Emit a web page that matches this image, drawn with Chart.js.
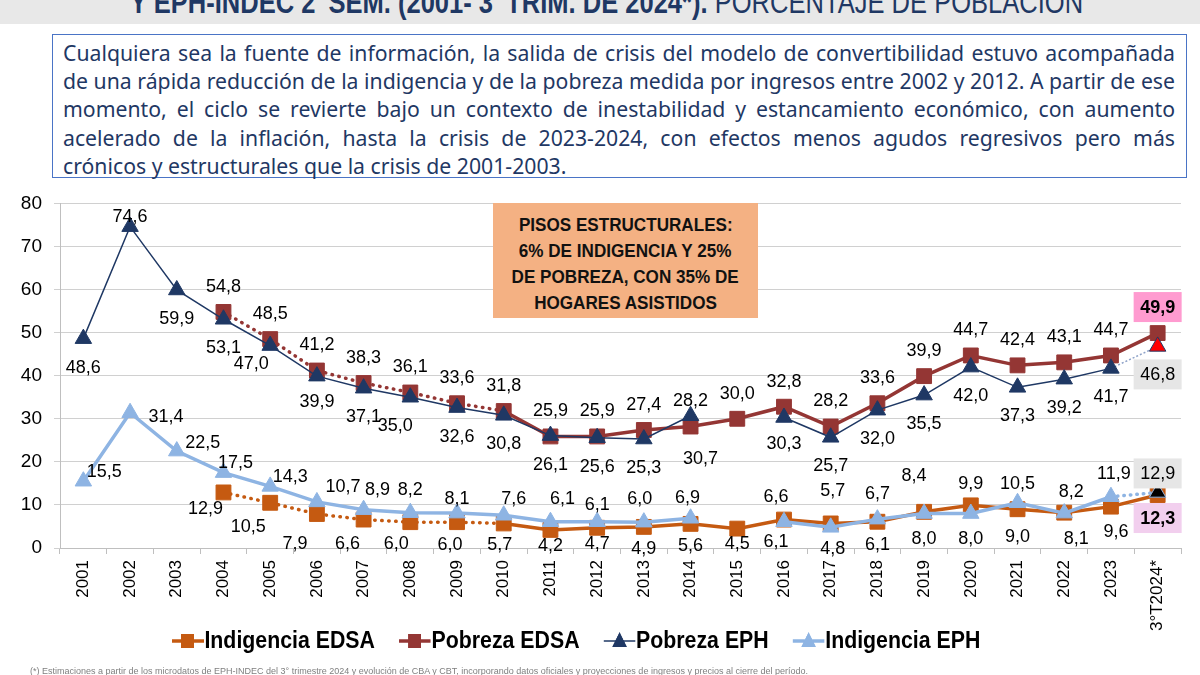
<!DOCTYPE html>
<html lang="es">
<head>
<meta charset="utf-8">
<title>Pobreza e indigencia EDSA y EPH</title>
<script src="https://cdn.jsdelivr.net/npm/chart.js@4.4.1/dist/chart.umd.min.js"></script>
<style>
    html, body { margin: 0; padding: 0; background: #fff; }
    body { width: 1200px; height: 675px; position: relative; overflow: hidden; font-family: "Liberation Sans", Arial, sans-serif; }
    .band { position: absolute; left: 0; top: 0; width: 1200px; height: 24px; background: #e8e8e8; overflow: hidden; }
    .band .title { position: absolute; left: 130px; top: -22px; white-space: nowrap; font-family: "Liberation Sans", sans-serif; font-size: 31px; color: #1f3864; line-height: 34px; transform-origin: left top; }
    .band .title b { font-weight: bold; }
    .band .title sup { font-size: 18px; vertical-align: 12px; }
    .note { position: absolute; left: 52px; top: 34px; width: 1135px; height: 144px; box-sizing: border-box; border: 1.5px solid #4a74c6; padding: 4px 11px 0 10px; font-family: "Noto Sans", sans-serif; font-size: 18.2px; line-height: 28.2px; color: #1f3864; }
    .note div { text-align: justify; text-align-last: justify; }
    .note div.last { text-align-last: left; }
    .pisos { position: absolute; left: 493px; top: 203px; width: 265px; height: 115px; background: #f4b183; box-sizing: border-box; padding-top: 9px; text-align: center; font-family: "Liberation Sans", sans-serif; font-weight: bold; font-size: 19px; line-height: 26px; color: #111; z-index: 2; }
    .pisos span { display: inline-block; transform: scaleX(0.9); white-space: nowrap; }
    #wrap { position: absolute; left: 0; top: 180px; width: 1200px; height: 495px; }
    .legend { position: absolute; left: 172px; top: 627px; display: flex; align-items: center; gap: 26px; white-space: nowrap; font-family: "Liberation Sans", sans-serif; font-weight: bold; font-size: 23px; color: #000; transform-origin: left center; }
    .legend span.item { display: flex; align-items: center; }
    .legend canvas { width: 34px; height: 22px; margin-right: 1px; }
    .foot { position: absolute; left: 30px; top: 666px; white-space: nowrap; font-size: 9px; color: #7f7f7f; }
    .probe { position: absolute; visibility: hidden; white-space: nowrap; }
</style>
</head>
<body>
<div class="band"><div class="title" id="title"><b>Y EPH-INDEC 2<sup>°</sup> SEM. (2001- 3<sup>°</sup> TRIM. DE 2024*). </b>PORCENTAJE DE POBLACIÓN</div></div>

<div class="note" id="note">
    <div>Cualquiera sea la fuente de información, la salida de crisis del modelo de convertibilidad estuvo acompañada</div>
    <div>de una rápida reducción de la indigencia y de la pobreza medida por ingresos entre 2002 y 2012. A partir de ese</div>
    <div>momento, el ciclo se revierte bajo un contexto de inestabilidad y estancamiento económico, con aumento</div>
    <div>acelerado de la inflación, hasta la crisis de 2023-2024, con efectos menos agudos regresivos pero más</div>
    <div class="last">crónicos y estructurales que la crisis de 2001-2003.</div>
</div>

<div id="wrap"><canvas id="chart"></canvas></div>

<div class="pisos"><span>PISOS ESTRUCTURALES:</span><br><span>6% DE INDIGENCIA Y 25%</span><br><span>DE POBREZA, CON 35% DE</span><br><span>HOGARES ASISTIDOS</span></div>

<div class="legend" id="legend"></div>

<div class="foot">(*) Estimaciones a partir de los microdatos de EPH-INDEC del 3° trimestre 2024 y evolución de CBA y CBT, incorporando datos oficiales y proyecciones de ingresos y precios al cierre del período.</div>

<script>
"use strict";

const years = ["2001", "2002", "2003", "2004", "2005", "2006", "2007", "2008", "2009", "2010", "2011", "2012",
    "2013", "2014", "2015", "2016", "2017", "2018", "2019", "2020", "2021", "2022", "2023", "3°T2024*"];

const indigenciaEdsa = [null, null, null, 12.9, 10.5, 7.9, 6.6, 6.0, 6.0, 5.7, 4.2, 4.7,
    4.9, 5.6, 4.5, 6.6, 5.7, 6.1, 8.4, 9.9, 9.0, 8.2, 9.6, 12.3];
const pobrezaEdsa = [null, null, null, 54.8, 48.5, 41.2, 38.3, 36.1, 33.6, 31.8, 25.9, 25.9,
    27.4, 28.2, 30.0, 32.8, 28.2, 33.6, 39.9, 44.7, 42.4, 43.1, 44.7, 49.9];
const pobrezaEph = [48.6, 74.6, 59.9, 53.1, 47.0, 39.9, 37.1, 35.0, 32.6, 30.8, 26.1, 25.6,
    25.3, 30.7, null, 30.3, 25.7, 32.0, 35.5, 42.0, 37.3, 39.2, 41.7, 46.8];
const indigenciaEph = [15.5, 31.4, 22.5, 17.5, 14.3, 10.7, 8.9, 8.2, 8.1, 7.6, 6.1, 6.1,
    6.0, 6.9, null, 6.1, 4.8, 6.7, 8.0, 8.0, 10.5, 8.1, 11.9, 12.9];

const yTicks = [0, 10, 20, 30, 40, 50, 60, 70, 80];

const ORANGE = "#c55a11";
const RED = "#943634";
const NAVY = "#1f3864";
const LIGHT = "#8eb4e3";

// label placement (pixel offset from the marker), index -> [dx, dy]
const lblIndEdsa = {3: [-18, 16], 4: [-22, 23], 5: [-22, 29], 6: [-16, 23], 7: [-14, 21], 8: [-7, 22], 9: [-4, 21],
    10: [0, 15], 11: [0, 15], 12: [0, 21], 13: [0, 21], 14: [0, 14], 15: [-8, -24], 16: [2, -33], 17: [0, 22],
    18: [-10, -37], 19: [0, -22], 20: [0, 27], 21: [7, -22], 22: [5, 24], 23: [0, 23]};
const lblPobEdsa = {};
const lblPobEph = {1: [0, -11], 4: [-19, 17], 5: [0, 25], 7: [-15, 28], 13: [10, 42], 15: [0, 26]};
const lblIndEph = {0: [21, -10], 1: [36, 3], 2: [26, -9], 3: [12, -11], 4: [20, -10], 5: [26, -16], 6: [14, -21],
    7: [0, -24], 8: [0, -15], 9: [10, -17], 10: [12, -24], 11: [0, -18], 12: [-4, -24], 13: [-3, -21],
    15: [-8, 19], 16: [2, 21], 17: [0, -26], 18: [0, 24], 19: [0, 24], 20: [0, -20], 21: [12, 25],
    22: [3, -24], 23: [0, -19]};

// highlighted last values
const boxes = {
    pobrezaEdsa: {fill: "#ff9bd0", bold: true},
    pobrezaEph: {fill: "#e6e6e6", bold: false},
    indigenciaEph: {fill: "#e6e6e6", bold: false},
    indigenciaEdsa: {fill: "#f2cfee", bold: true}
};

function fmt(v) {
    return v.toFixed(1).replace(".", ",");
}

const dotted = (from, to) => ctx => ctx.p0DataIndex >= from && ctx.p1DataIndex <= to;

const valueLabels = {
    id: "valueLabels",
    afterDatasetsDraw(chart) {
        const {ctx} = chart;
        ctx.save();
        ctx.textAlign = "center";
        ctx.textBaseline = "middle";
        chart.data.datasets.forEach((ds, i) => {
            const meta = chart.getDatasetMeta(i);
            meta.data.forEach((pt, j) => {
                const v = ds.data[j];
                if (v === null) return;
                const off = ds.lbl[j] || ds.lblDefault;
                const x = pt.x + off[0];
                const y = pt.y + off[1];
                const last = j === ds.data.length - 1;
                const box = last ? boxes[ds.key] : null;
                ctx.font = (box && box.bold ? "bold " : "") + "18px 'Liberation Sans', Arial, sans-serif";
                if (box) {
                    ctx.fillStyle = box.fill;
                    ctx.fillRect(x - 24, y - 15, 48, 30);
                }
                ctx.fillStyle = "#000";
                ctx.fillText(fmt(v), x, y + 1);
            });
        });
        ctx.restore();
    }
};

const datasets = [
    {
        key: "indigenciaEph", label: "Indigencia EPH", data: indigenciaEph, order: 0,
        borderColor: LIGHT, backgroundColor: LIGHT, borderWidth: 3.5,
        pointStyle: "triangle", pointRadius: 9.5, pointHoverRadius: 9.5,
        pointBackgroundColor: indigenciaEph.map((v, i) => i === indigenciaEph.length - 1 ? "#000" : LIGHT),
        pointBorderColor: LIGHT, pointBorderWidth: 1,
        segment: {
            borderDash: ctx => ctx.p0DataIndex === 22 ? [0.5, 6] : undefined,
            borderCapStyle: ctx => ctx.p0DataIndex === 22 ? "round" : "butt"
        },
        lbl: lblIndEph, lblDefault: [0, -22]
    },
    {
        key: "pobrezaEph", label: "Pobreza EPH", data: pobrezaEph, order: 1,
        borderColor: NAVY, backgroundColor: NAVY, borderWidth: 1.5,
        pointStyle: "triangle", pointRadius: 9.5, pointHoverRadius: 9.5,
        pointBackgroundColor: pobrezaEph.map((v, i) => i === pobrezaEph.length - 1 ? "#ff0000" : NAVY),
        pointBorderColor: NAVY, pointBorderWidth: 1,
        segment: {
            borderDash: ctx => ctx.p0DataIndex === 22 ? [2, 2] : undefined,
            borderColor: ctx => ctx.p0DataIndex === 22 ? "#8ea2c8" : undefined
        },
        lbl: lblPobEph, lblDefault: [0, 28]
    },
    {
        key: "indigenciaEdsa", label: "Indigencia EDSA", data: indigenciaEdsa, order: 2,
        borderColor: ORANGE, backgroundColor: ORANGE, borderWidth: 3.5,
        pointStyle: "rect", pointRadius: 10.5, pointHoverRadius: 10.5,
        pointBackgroundColor: ORANGE, pointBorderColor: ORANGE, pointBorderWidth: 1,
        segment: {
            borderDash: ctx => dotted(3, 9)(ctx) ? [0.5, 6.5] : undefined,
            borderCapStyle: ctx => dotted(3, 9)(ctx) ? "round" : "butt"
        },
        lbl: lblIndEdsa, lblDefault: [0, 22]
    },
    {
        key: "pobrezaEdsa", label: "Pobreza EDSA", data: pobrezaEdsa, order: 3,
        borderColor: RED, backgroundColor: RED, borderWidth: 3.5,
        pointStyle: "rect", pointRadius: 10.5, pointHoverRadius: 10.5,
        pointBackgroundColor: RED, pointBorderColor: RED, pointBorderWidth: 1,
        segment: {
            borderDash: ctx => dotted(3, 9)(ctx) ? [0.5, 6.5] : undefined,
            borderCapStyle: ctx => dotted(3, 9)(ctx) ? "round" : "butt"
        },
        lbl: lblPobEdsa, lblDefault: [0, -26]
    }
];

new Chart(document.getElementById("chart").getContext("2d"), {
    type: "line",
    data: {labels: years, datasets},
    plugins: [valueLabels],
    options: {
        responsive: true,
        maintainAspectRatio: false,
        animation: false,
        layout: {padding: {top: 15, right: 19, left: 0, bottom: 0}},
        plugins: {legend: {display: false}, tooltip: {enabled: false}},
        scales: {
            x: {
                offset: true,
                afterFit(scale) { scale.height = 127; },
                grid: {offset: true, drawOnChartArea: false, drawTicks: true, tickLength: 6, color: "#bfbfbf"},
                border: {color: "#bfbfbf"},
                ticks: {autoSkip: false, minRotation: 90, maxRotation: 90, padding: 6, color: "#000",
                    font: {family: "'Liberation Sans', Arial, sans-serif", size: 17}}
            },
            y: {
                min: 0, max: 80,
                afterFit(scale) { scale.width = 60; },
                afterBuildTicks(scale) { scale.ticks = yTicks.map(value => ({value})); },
                grid: {color: "#d0d0d0", tickLength: 6, lineWidth: 1},
                border: {color: "#bfbfbf"},
                ticks: {padding: 12, color: "#000", font: {family: "'Liberation Sans', Arial, sans-serif", size: 19}}
            }
        }
    }
});

// legend with line + marker icons
function legendIcon(color, shape) {
    const c = document.createElement("canvas");
    c.width = 68; c.height = 44;
    const g = c.getContext("2d");
    g.scale(2, 2);
    g.strokeStyle = color;
    g.lineWidth = shape === "triangle" && color === NAVY ? 1.5 : 3.5;
    g.beginPath(); g.moveTo(0, 11); g.lineTo(34, 11); g.stroke();
    g.fillStyle = color;
    g.beginPath();
    if (shape === "rect") {
        g.rect(10, 4, 14, 14);
    } else {
        g.moveTo(17, 2); g.lineTo(25, 17); g.lineTo(9, 17); g.closePath();
    }
    g.fill();
    return c;
}

const legendItems = [
    ["Indigencia EDSA", ORANGE, "rect"],
    ["Pobreza EDSA", RED, "rect"],
    ["Pobreza EPH", NAVY, "triangle"],
    ["Indigencia EPH", LIGHT, "triangle"]
];
const legendEl = document.getElementById("legend");
for (const [text, color, shape] of legendItems) {
    const item = document.createElement("span");
    item.className = "item";
    item.appendChild(legendIcon(color, shape));
    item.appendChild(document.createTextNode(text));
    legendEl.appendChild(item);
}

// condensed look: squeeze title and legend to the widths seen in the picture
function squeeze(el, width) {
    el.style.transform = "scaleX(" + (width / el.offsetWidth) + ")";
}
squeeze(document.getElementById("title"), 953);
squeeze(legendEl, 808);

// grow the note font until its fullest line fills the box
const note = document.getElementById("note");
const probe = document.createElement("span");
probe.className = "probe";
probe.style.font = getComputedStyle(note).font;
document.body.appendChild(probe);
let widest = 0;
for (const line of Array.from(note.children).slice(0, 2)) {
    probe.textContent = line.textContent;
    widest = Math.max(widest, probe.offsetWidth);
}
note.style.fontSize = (18.2 * 1110 / widest).toFixed(2) + "px";
probe.remove();
</script>
</body>
</html>
